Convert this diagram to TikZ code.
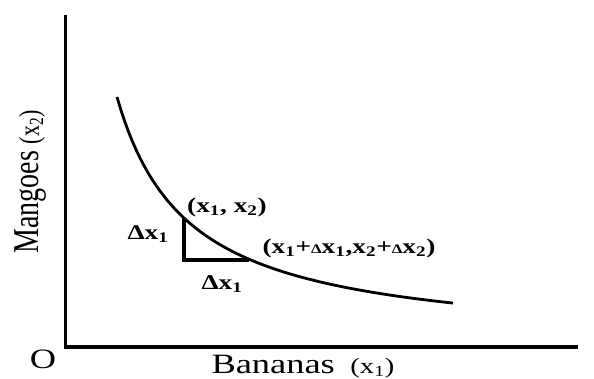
\documentclass[tikz,border=0pt]{standalone}
\usepackage{fontspec}
\setmainfont{Liberation Serif}
\usetikzlibrary{positioning}
\tikzset{
  axisline/.style={line width=3.6pt, line cap=butt, line join=miter},
  curveline/.style={line width=2.8pt},
  triline/.style={line width=3.4pt, line join=miter},
  axislabel/.style={font=\fontsize{28}{30}\selectfont, inner sep=0pt, xscale=1.3},
  ptlabel/.style={font=\bfseries\fontsize{21}{23}\selectfont, inner sep=0pt, xscale=1.3}
}
\newcommand{\smalldelta}{{\fontsize{13}{14}\selectfont Δ}}
\begin{document}
\begin{tikzpicture}[x=1pt,y=-1pt]
  \useasboundingbox (0,0) rectangle (594,379);
  % axes
  \coordinate (origin) at (65.5,347);
  \coordinate (ytop) at (65.5,15);
  \coordinate (xend) at (578,347);
  \draw[axisline] (ytop) -- (origin) -- (xend);
  % indifference curve
  \coordinate (p1) at (184,218);
  \coordinate (p2) at (249,260);
  \draw[curveline] plot[domain=117:453, samples=90]
    (\x, {346.8 - 178.09/((\x-45.7)/100)});
  \draw[triline] (p1) |- (p2);
  % labels
  \node[axislabel] (olbl) at (43,359) {O};
  \node[axislabel] (xlbl) at (303,367) {Bananas\hspace{12pt}{\fontsize{22}{24}\selectfont(x\textsubscript{1})}};
  \node[axislabel, rotate=90] (ylbl) at (31,182) {Mangoes {\fontsize{22}{24}\selectfont(x\textsubscript{2})}};
  \node[ptlabel] (p1lbl) at (227,207) {(x\textsubscript{1}, x\textsubscript{2})};
  \node[ptlabel] (p2lbl) at (349,248) {(x\textsubscript{1}+\smalldelta x\textsubscript{1},x\textsubscript{2}+\smalldelta x\textsubscript{2})};
  \node[ptlabel] (dylbl) at (148,234) {Δx\textsubscript{1}};
  \node[ptlabel] (dxlbl) at (222,284) {Δx\textsubscript{1}};
\end{tikzpicture}
\end{document}
